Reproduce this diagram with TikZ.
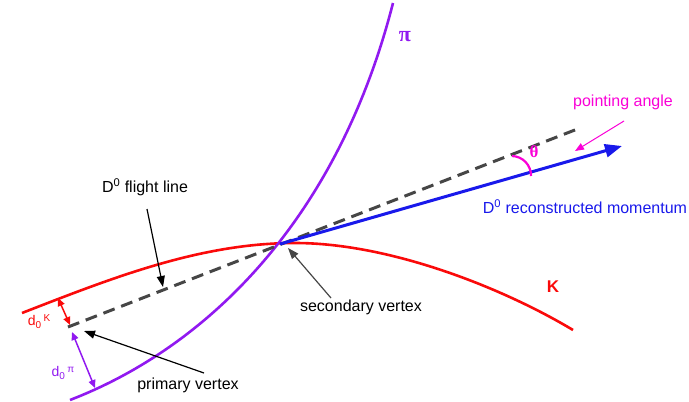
\documentclass[tikz,border=0pt]{standalone}
\usepackage{fontspec}
\setmainfont{Liberation Sans}
\newfontfamily\grkserif{Liberation Serif}
\usetikzlibrary{arrows.meta}
\definecolor{kred}{RGB}{250,10,10}
\definecolor{pipurple}{RGB}{145,25,240}
\definecolor{momblue}{RGB}{25,25,235}
\definecolor{angmag}{RGB}{250,0,215}
\definecolor{flgray}{RGB}{70,70,70}
\definecolor{svgray}{RGB}{70,70,70}
\begin{document}
\begin{tikzpicture}[x=1pt,y=-1pt,
  lbl/.style={font=\fontsize{16}{19}\selectfont, inner sep=0pt},
  track/.style={line width=2.6pt},
  dashline/.style={flgray, line width=3pt, dash pattern=on 12pt off 7pt},
  momarrow/.style={momblue, line width=3pt, -{Triangle[length=17pt,width=13pt]}},
  ptr/.style={line width=1.2pt, -{Triangle[length=11pt,width=8pt]}},
  dimarrow/.style={line width=1.5pt, {Triangle[length=8pt,width=7pt]}-{Triangle[length=8pt,width=7pt]}},
]
\useasboundingbox (0,0) rectangle (689,402);
\coordinate (SV) at (280,244);
\coordinate (PV) at (68,327);
\coordinate (FE) at (580,128);
\coordinate (ME) at (622,146);

% K track
\coordinate (kA) at (22,313);
\coordinate (kTop) at (295,243);
\coordinate (kB) at (573,330);
\draw[kred, track] (kA) .. controls (112,278) and (200,243) .. (kTop)
  .. controls (390,243) and (503,288) .. (kB);
% pi track
\coordinate (pA) at (70,400);
\coordinate (pB) at (393,3);
\draw[pipurple, track] (pA) .. controls (205,348) and (337,222) .. (pB);
% flight line
\draw[dashline] (PV) -- (FE);
% momentum
\draw[momarrow] (SV) -- (ME);

% pointing angle
\coordinate (thA) at (512,156);
\coordinate (thB) at (531,176);
\draw[angmag, line width=2.2pt] (thA) to[bend left=45] (thB);
\node[angmag, inner sep=0pt, font=\grkserif\bfseries\fontsize{17}{19}\selectfont] (th) at (534,152) {θ};
\node[lbl, angmag] (pa) at (623,102) {pointing angle};
\coordinate (paS) at (624,121);
\coordinate (paE) at (575,151);
\draw[angmag, line width=1pt, -{Triangle[length=9pt,width=7pt]}] (paS) -- (paE);

\node[lbl, momblue] (mom) at (585,207) {D\textsuperscript{0} reconstructed momentum};

% track labels
\node[pipurple, inner sep=0pt, font=\grkserif\bfseries\fontsize{22}{24}\selectfont] (pil) at (405,37) {π};
\node[kred, inner sep=0pt, font=\bfseries\fontsize{17}{19}\selectfont] (kl) at (553,287) {K};

% flight line label
\node[lbl] (flt) at (145,187) {D\textsuperscript{0} flight line};
\coordinate (fltS) at (147,209);
\coordinate (fltE) at (163,287);
\draw[ptr] (fltS) -- (fltE);

% secondary vertex
\node[lbl] (svl) at (361,307) {secondary vertex};
\coordinate (svS) at (331,298);
\coordinate (svE) at (288,248);
\draw[ptr, svgray] (svS) -- (svE);

% primary vertex
\node[lbl] (pvl) at (188,385) {primary vertex};
\coordinate (pvS) at (204,373);
\coordinate (pvE) at (84,331);
\draw[ptr] (pvS) -- (pvE);

% impact parameters
\coordinate (dkA) at (58,298);
\coordinate (dkB) at (70,325);
\draw[kred, dimarrow] (dkA) -- (dkB);
\node[kred, inner sep=0pt, font=\fontsize{14}{16}\selectfont] (dkl) at (39,322) {d\raisebox{-3pt}{\fontsize{10}{12}\selectfont 0}\,\raisebox{4pt}{\fontsize{10}{12}\selectfont K}};

\coordinate (dpA) at (72,332);
\coordinate (dpB) at (95,388);
\draw[pipurple, dimarrow] (dpA) -- (dpB);
\node[pipurple, inner sep=0pt, font=\fontsize{14}{16}\selectfont] (dpl) at (63,373) {d\raisebox{-3pt}{\fontsize{10}{12}\selectfont 0}\,\raisebox{4pt}{\fontsize{10}{12}\selectfont π}};
\end{tikzpicture}
\end{document}
